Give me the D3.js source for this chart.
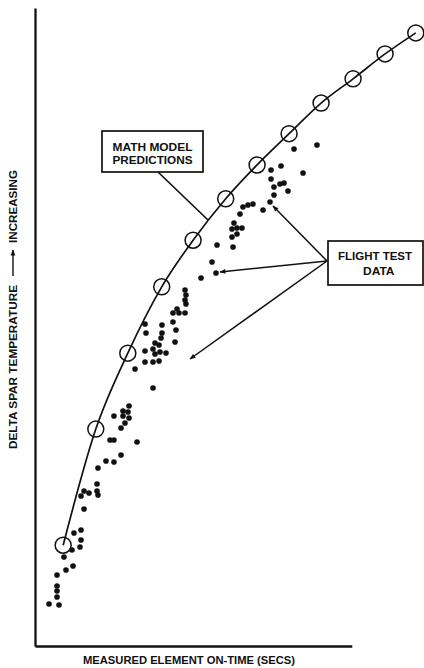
<!DOCTYPE html>
<html>
<head>
<meta charset="utf-8">
<script src="https://cdn.jsdelivr.net/npm/d3@7"></script>
<style>
  html, body { margin: 0; padding: 0; background: #fff; }
  svg { display: block; }
  text { font-family: "Liberation Sans", Arial, Helvetica, sans-serif; font-weight: bold; fill: #111; }
</style>
</head>
<body>
<svg id="chart" width="424" height="668"></svg>
<script>
// Math model predictions: element on-time (s) vs. delta spar temperature (relative units)
const modelTime = [4.4, 9.5, 14.5, 19.8, 24.7, 29.8, 34.7, 39.7, 44.7, 49.7, 54.7, 59.5];
const modelTemp = [15.8, 34.0, 45.9, 56.3, 63.6, 70.1, 75.4, 80.3, 85.1, 88.9, 92.8, 96.1];

// Flight test data
const flightTime = [
  2.19, 3.75, 3.44, 3.44, 3.44, 3.44, 4.84, 5.94, 4.53, 5.78,
  7.03, 7.19, 7.19, 6.09, 7.66, 7.19, 7.66, 8.44, 9.69, 9.84,
  9.69, 9.84, 11.09, 12.34, 13.44, 11.72, 12.34, 15.94, 13.44, 14.06,
  14.69, 13.75, 14.53, 13.75, 14.69, 12.34, 18.44, 15.63, 17.19, 18.44,
  19.38, 17.19, 18.75, 19.53, 20.47, 18.44, 18.75, 19.38, 21.88, 19.69,
  17.34, 19.84, 22.03, 17.19, 19.84, 21.56, 22.19, 21.56, 22.50, 23.44,
  23.44, 23.59, 23.44, 23.59, 25.94, 28.28, 27.66, 28.44, 30.94, 30.78,
  31.56, 30.78, 31.56, 32.34, 31.09, 32.03, 32.50, 33.28, 34.06, 35.63,
  36.72, 37.34, 39.53, 37.34, 38.28, 38.91, 36.88, 41.88, 36.88, 38.44,
  40.47, 44.06
];
const flightTemp = [
  6.58, 6.43, 7.68, 8.62, 9.40, 11.13, 11.91, 12.54, 13.95, 15.05,
  15.52, 16.61, 18.18, 17.71, 21.47, 23.51, 24.29, 23.98, 24.29, 23.67,
  25.39, 27.90, 29.00, 28.84, 29.94, 32.29, 32.29, 31.97, 34.17, 34.95,
  37.62, 36.83, 36.68, 36.05, 35.74, 36.05, 40.44, 43.42, 44.51, 44.51,
  44.67, 46.24, 45.77, 46.08, 45.92, 46.55, 47.49, 47.18, 47.65, 48.28,
  49.06, 49.06, 49.53, 50.47, 50.31, 50.78, 52.82, 52.19, 52.19, 52.19,
  55.80, 55.02, 54.23, 53.61, 57.68, 58.46, 60.19, 62.85, 62.54, 64.11,
  64.58, 65.36, 65.52, 65.52, 66.30, 67.71, 68.81, 69.12, 69.28, 68.34,
  69.59, 70.69, 71.32, 71.94, 72.41, 72.57, 73.20, 74.14, 74.61, 75.24,
  77.90, 78.53
];

const xAxisEnd = 49.5;   // drawn length of the time axis
const xTitle = "MEASURED ELEMENT ON-TIME (SECS)";
const yTitleLow = "DELTA SPAR TEMPERATURE";
const yTitleHigh = "INCREASING";
const modelLabel = ["MATH MODEL", "PREDICTIONS"];
const flightLabel = ["FLIGHT TEST", "DATA"];

const svg = d3.select("#chart");
svg.append("rect").attr("width", 424).attr("height", 668).attr("fill", "#fff");

const x = d3.scaleLinear().domain([0, 60]).range([35, 419]);
const y = d3.scaleLinear().domain([0, 100]).range([646, 8]);

// arrowhead marker
svg.append("defs").append("marker")
  .attr("id", "head")
  .attr("viewBox", "0 0 10 10")
  .attr("refX", 9).attr("refY", 5)
  .attr("markerWidth", 7).attr("markerHeight", 6)
  .attr("markerUnits", "userSpaceOnUse")
  .attr("orient", "auto")
  .append("path").attr("d", "M0,1 L10,5 L0,9 Z").attr("fill", "#111");

// axes (no ticks)
const yAxis = d3.axisLeft(y).tickValues([]).tickSizeOuter(0);
svg.append("g").attr("transform", `translate(${x(0)},0)`).call(yAxis)
  .select(".domain").attr("stroke", "#111").attr("stroke-width", 2.3);

const xAxisScale = d3.scaleLinear().domain([0, xAxisEnd]).range([x(0), x(xAxisEnd)]);
svg.append("g").attr("transform", `translate(0,${y(0)})`)
  .call(d3.axisBottom(xAxisScale).tickValues([]).tickSizeOuter(0))
  .select(".domain").attr("stroke", "#111").attr("stroke-width", 2.3);

// axis titles
svg.append("text")
  .attr("x", 83).attr("y", 664)
  .attr("font-size", 10.5)
  .attr("textLength", 212).attr("lengthAdjust", "spacingAndGlyphs")
  .text(xTitle);

const yt = svg.append("g").attr("transform", "translate(17,0) rotate(-90)");
yt.append("text")
  .attr("x", -449).attr("y", 0)
  .attr("font-size", 11)
  .attr("textLength", 164).attr("lengthAdjust", "spacingAndGlyphs")
  .text(yTitleLow);
yt.append("line")
  .attr("x1", -276).attr("x2", -250)
  .attr("y1", -4).attr("y2", -4)
  .attr("stroke", "#111").attr("stroke-width", 1.4)
  .attr("marker-end", "url(#head)");
yt.append("text")
  .attr("x", -243).attr("y", 0)
  .attr("font-size", 11)
  .attr("textLength", 73).attr("lengthAdjust", "spacingAndGlyphs")
  .text(yTitleHigh);

// model curve and circles
const model = modelTime.map((t, i) => ({ t, v: modelTemp[i] }));
const line = d3.line().x(d => x(d.t)).y(d => y(d.v)).curve(d3.curveMonotoneX);
svg.append("path").datum(model)
  .attr("d", line).attr("fill", "none")
  .attr("stroke", "#111").attr("stroke-width", 1.7);
svg.append("g").selectAll("circle").data(model).join("circle")
  .attr("cx", d => x(d.t)).attr("cy", d => y(d.v)).attr("r", 8)
  .attr("fill", "none").attr("stroke", "#111").attr("stroke-width", 1.5);

// flight test points
const flight = flightTime.map((t, i) => ({ t, v: flightTemp[i] }));
svg.append("g").selectAll("circle").data(flight).join("circle")
  .attr("cx", d => x(d.t)).attr("cy", d => y(d.v)).attr("r", 2.8)
  .attr("fill", "#111");

// "MATH MODEL PREDICTIONS" callout
svg.append("line")
  .attr("x1", 158).attr("y1", 172).attr("x2", 208).attr("y2", 220)
  .attr("stroke", "#111").attr("stroke-width", 1.7);
svg.append("rect")
  .attr("x", 102).attr("y", 131).attr("width", 101).attr("height", 41)
  .attr("fill", "#fff").attr("stroke", "#111").attr("stroke-width", 1.7);
svg.append("text").attr("x", 112.5).attr("y", 151).attr("font-size", 11)
  .attr("textLength", 80).attr("lengthAdjust", "spacingAndGlyphs").text(modelLabel[0]);
svg.append("text").attr("x", 112.5).attr("y", 163.5).attr("font-size", 11)
  .attr("textLength", 80).attr("lengthAdjust", "spacingAndGlyphs").text(modelLabel[1]);

// "FLIGHT TEST DATA" callout with arrows
const origin = [327, 261];
const tips = [[273, 206], [220, 272], [190, 359]];
svg.append("g").selectAll("line").data(tips).join("line")
  .attr("x1", origin[0]).attr("y1", origin[1])
  .attr("x2", d => d[0]).attr("y2", d => d[1])
  .attr("stroke", "#111").attr("stroke-width", 1.5)
  .attr("marker-end", "url(#head)");
svg.append("rect")
  .attr("x", 328).attr("y", 241).attr("width", 95).attr("height", 44)
  .attr("fill", "#fff").attr("stroke", "#111").attr("stroke-width", 1.7);
svg.append("text").attr("x", 338).attr("y", 259.5).attr("font-size", 11.5)
  .attr("textLength", 74).attr("lengthAdjust", "spacingAndGlyphs").text(flightLabel[0]);
svg.append("text").attr("x", 363).attr("y", 274.5).attr("font-size", 11.5)
  .attr("textLength", 31.5).attr("lengthAdjust", "spacingAndGlyphs").text(flightLabel[1]);
</script>
</body>
</html>
